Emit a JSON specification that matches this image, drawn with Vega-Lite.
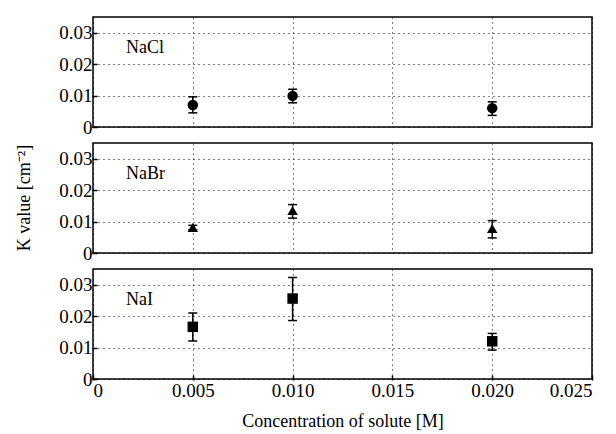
{
  "$schema": "https://vega.github.io/schema/vega-lite/v6.json",
  "background": "white",
  "padding": {"left": 16, "top": 16, "right": 1, "bottom": 0},
  "data": {"values": [
    {"salt": "NaCl", "conc": 0.005, "k": 0.0070, "lo": 0.0045, "hi": 0.0096},
    {"salt": "NaCl", "conc": 0.010, "k": 0.0099, "lo": 0.0077, "hi": 0.0120},
    {"salt": "NaCl", "conc": 0.020, "k": 0.0060, "lo": 0.0037, "hi": 0.0080},
    {"salt": "NaBr", "conc": 0.005, "k": 0.0081, "lo": 0.0074, "hi": 0.0088},
    {"salt": "NaBr", "conc": 0.010, "k": 0.0135, "lo": 0.0111, "hi": 0.0154},
    {"salt": "NaBr", "conc": 0.020, "k": 0.0078, "lo": 0.0048, "hi": 0.0103},
    {"salt": "NaI", "conc": 0.005, "k": 0.0166, "lo": 0.0121, "hi": 0.0210},
    {"salt": "NaI", "conc": 0.010, "k": 0.0256, "lo": 0.0186, "hi": 0.0323},
    {"salt": "NaI", "conc": 0.020, "k": 0.0120, "lo": 0.0092, "hi": 0.0145}
  ]},
  "facet": {
    "row": {
      "field": "salt", "type": "nominal", "sort": ["NaCl", "NaBr", "NaI"],
      "header": {
        "labels": false,
        "title": "K  value [cm⁻²]",
        "titleFont": "Liberation Serif", "titleFontSize": 18, "titleFontWeight": "normal",
        "titleColor": "black", "titlePadding": 14
      }
    }
  },
  "spacing": {"row": 14},
  "spec": {
    "width": 499,
    "height": 110,
    "encoding": {
      "x": {
        "field": "conc", "type": "quantitative",
        "scale": {"domain": [0, 0.025], "nice": false, "zero": true},
        "axis": {
          "values": [0, 0.005, 0.01, 0.015, 0.02, 0.025],
          "tickCount": 6,
          "labelExpr": "datum.value == 0 ? '0' : format(datum.value, '.3f')",
          "title": "Concentration of solute [M]",
          "titlePadding": 12, "labelPadding": 6,
          "labelFont": "Liberation Serif", "titleFont": "Liberation Serif"
        }
      }
    },
    "layer": [
      {
        "mark": {"type": "rule", "color": "black", "strokeWidth": 1.5},
        "encoding": {
          "y": {"field": "lo", "type": "quantitative",
            "scale": {"domain": [0, 0.035], "nice": false},
            "axis": {"values": [0, 0.01, 0.02, 0.03], "tickCount": 4, "labelOverlap": false,
              "labelExpr": "datum.value == 0 ? '0' : format(datum.value, '.2f')", "title": null,
              "labelFont": "Liberation Serif"}},
          "y2": {"field": "hi"}
        }
      },
      {
        "mark": {"type": "tick", "orient": "horizontal", "size": 9, "thickness": 1.5, "color": "black", "opacity": 1},
        "encoding": {"y": {"field": "lo", "type": "quantitative"}}
      },
      {
        "mark": {"type": "tick", "orient": "horizontal", "size": 9, "thickness": 1.5, "color": "black", "opacity": 1},
        "encoding": {"y": {"field": "hi", "type": "quantitative"}}
      },
      {
        "mark": {"type": "point", "filled": true, "color": "black", "opacity": 1, "size": 110},
        "encoding": {
          "y": {"field": "k", "type": "quantitative"},
          "shape": {"field": "salt", "type": "nominal",
            "scale": {"domain": ["NaCl", "NaBr", "NaI"], "range": ["circle", "triangle-up", "square"]},
            "legend": null}
        }
      },
      {
        "transform": [{"filter": "datum.conc == 0.005"}],
        "mark": {"type": "text", "align": "left", "baseline": "middle", "font": "Liberation Serif", "fontSize": 18, "color": "black"},
        "encoding": {
          "x": {"datum": 0.00165, "type": "quantitative"},
          "y": {"datum": 0.025, "type": "quantitative"},
          "text": {"field": "salt", "type": "nominal"}
        }
      }
    ]
  },
  "config": {
    "font": "Liberation Serif",
    "view": {"stroke": "black", "strokeWidth": 1.5},
    "style": {
      "guide-label": {"font": "Liberation Serif"},
      "guide-title": {"font": "Liberation Serif"}
    },
    "axis": {
      "labelFont": "Liberation Serif", "labelFontSize": 19, "labelColor": "black",
      "titleFont": "Liberation Serif", "titleFontSize": 18, "titleFontWeight": "normal", "titleColor": "black",
      "domain": false,
      "tickColor": "black", "tickSize": -5, "tickWidth": 1.5,
      "grid": true, "gridColor": "black", "gridDash": [1, 4], "gridWidth": 1, "gridOpacity": 1,
      "labelPadding": 5
    }
  }
}
